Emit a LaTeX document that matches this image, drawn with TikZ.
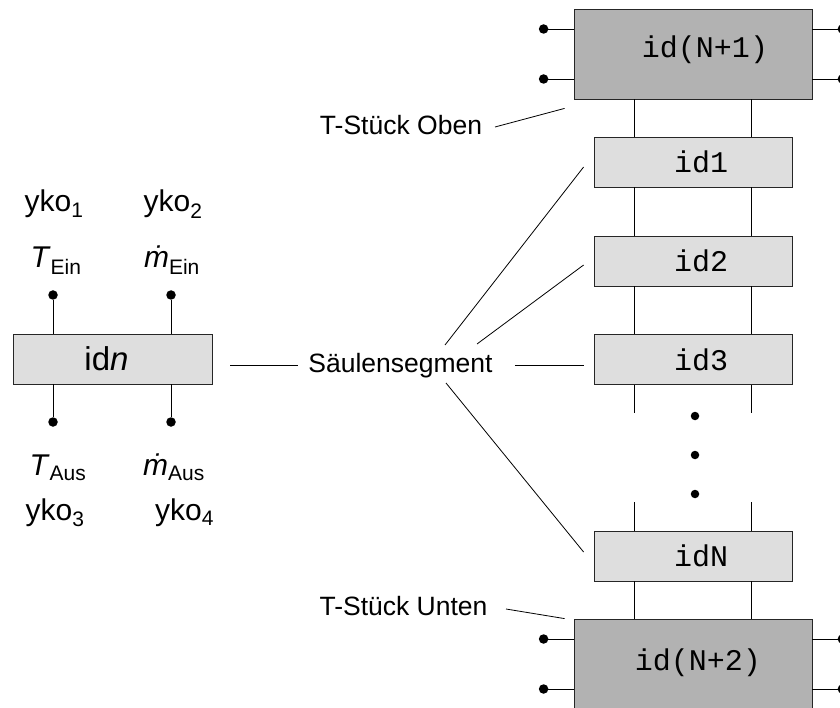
\documentclass[tikz,border=0pt]{standalone}
\usepackage{fontspec}
\setmainfont{Liberation Sans}
\setmonofont{Liberation Mono}
\usepackage{xcolor}
\definecolor{teegray}{gray}{0.70}
\definecolor{seggray}{gray}{0.87}

\begin{document}
\begin{tikzpicture}[x=1pt, y=-1pt, line width=0.8pt,
    txt/.style={font=\fontsize{26.5}{30}\selectfont, inner sep=0pt, anchor=base},
    var/.style={txt, font=\fontsize{30}{34}\selectfont},
    idtext/.style={font=\ttfamily\fontsize{30}{34}\selectfont, inner sep=0pt},
    segbox/.style={draw=black!85, fill=seggray, minimum width=198pt,
                   minimum height=50pt, inner sep=0pt},
    teebox/.style={draw=black!85, fill=teegray, minimum width=238pt,
                   minimum height=90pt, inner sep=0pt},
    pin/.style={circle, fill=black, inner sep=0pt, minimum size=9.5pt}]
\clip (0,0) rectangle (840,708);

% single segment, left
\node[segbox, minimum width=199pt,
      label={[font=\fontsize{33}{38}\selectfont, xshift=-6pt]center:id\textit{n}}]
      (segn) at (112.5,359) {};
\node[pin] (tEin) at (53,295) {};
\node[pin] (mEin) at (171,295) {};
\node[pin] (tAus) at (53,422) {};
\node[pin] (mAus) at (171,422) {};
\draw (tEin) -- (tEin |- segn.north);
\draw (mEin) -- (mEin |- segn.north);
\draw (tAus) -- (tAus |- segn.south);
\draw (mAus) -- (mAus |- segn.south);

\node[var] (yko1) at (54,212) {yko\textsubscript{1}};
\node[var] (yko2) at (173,212) {yko\textsubscript{2}};
\node[var] (lTEin) at (56,268) {\textit{T}\textsubscript{Ein}};
\node[var] (lmEin) at (172,268) {\textit{ṁ}\textsubscript{Ein}};
\node[var] (lTAus) at (58,475) {\textit{T}\textsubscript{Aus}};
\node[var] (lmAus) at (174,475) {\textit{ṁ}\textsubscript{Aus}};
\node[var] (yko3) at (55,520) {yko\textsubscript{3}};
\node[var] (yko4) at (184.5,520) {yko\textsubscript{4}};

% column
\node[teebox, label={[idtext, xshift=12pt, yshift=4pt]center:id(N+1)}]
      (teeTop) at (693,54) {};
\foreach \i/\y in {1/162,2/261,3/359.5}
  \node[segbox, label={[idtext, xshift=8pt]center:id\i}] (s\i) at (693,\y) {};
\node[segbox, label={[idtext, xshift=8pt]center:idN}] (sN) at (693,556) {};
\node[teebox, label={[idtext, xshift=5pt, yshift=1pt]center:id(N+2)}]
      (teeBot) at (693,664) {};

\foreach \dx in {-59,58} {
  \draw ([xshift=\dx pt]teeTop.south) -- ([xshift=\dx pt]s1.north);
  \draw ([xshift=\dx pt]s1.south) -- ([xshift=\dx pt]s2.north);
  \draw ([xshift=\dx pt]s2.south) -- ([xshift=\dx pt]s3.north);
  \draw ([xshift=\dx pt]s3.south) -- ++(0,28);
  \draw ([xshift=\dx pt]sN.north) -- ++(0,-29);
  \draw ([xshift=\dx pt]sN.south) -- ([xshift=\dx pt]teeBot.north);
}
\foreach \i/\y in {1/416,2/455,3/494}
  \node[pin, minimum size=8.5pt] (dot\i) at (695,\y) {};

\foreach \b in {teeTop,teeBot}
  \foreach \dy in {25,-25} {
    \draw ([yshift=\dy pt]\b.west) -- ++(-30,0) node[pin] (\b l\dy) {};
    \draw ([yshift=\dy pt]\b.east) -- ++(30,0) node[pin] (\b r\dy) {};
  }

% labels
\node[txt] (saeule) at (400.5,372) {Säulensegment};
\node[txt] (tOben) at (401,135) {T-Stück Oben};
\node[txt] (tUnten) at (403.5,615) {T-Stück Unten};

\draw[shorten <=18pt, shorten >=10pt] (segn.east |- saeule.west) -- (saeule.west);
\draw[shorten <=22pt, shorten >=10pt] (saeule.east) -- (s3.west |- saeule.east);
\coordinate (f1) at (445,345);
\coordinate (f2) at (477,344);
\coordinate (f4) at (446,383);
\draw (f1) -- ([xshift=-10pt, yshift=-5pt]s1.west);
\draw (f2) -- ([xshift=-10pt, yshift=-4pt]s2.west);
\draw (f4) -- ([xshift=-10pt, yshift=4pt]sN.west);

\coordinate (o1) at (495,127);
\coordinate (u1) at (506,609);
\draw (o1) -- ([xshift=-9pt, yshift=-9pt]teeTop.south west);
\draw (u1) -- ([xshift=-9pt]teeBot.north west);
\end{tikzpicture}
\end{document}
